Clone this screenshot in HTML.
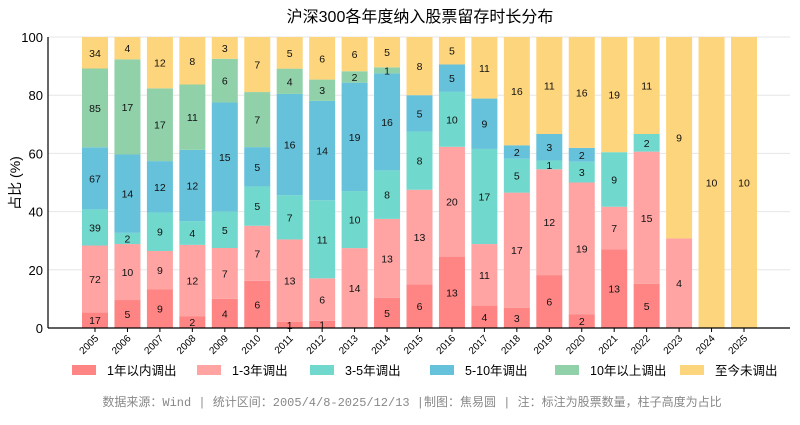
<!DOCTYPE html>
<html><head><meta charset="utf-8"><style>
body{margin:0;background:#fff;font-family:"Liberation Sans","Noto Sans CJK SC",sans-serif}
svg text{font-family:"Liberation Sans","Noto Sans CJK SC",sans-serif}
</style></head><body>
<svg id="chart" width="800" height="420" viewBox="0 0 800 420" xmlns="http://www.w3.org/2000/svg">
<text x="420" y="22" text-anchor="middle" font-size="16" fill="#000">沪深300各年度纳入股票留存时长分布</text>
<text transform="translate(20,183) rotate(-90)" text-anchor="middle" font-size="14">占比 (%)</text>
<g id="grid"></g><g id="bars"></g><g id="axes"></g><g id="legend"></g>
<text x="412" y="406" text-anchor="middle" font-size="12" fill="#888" style="font-family:'Liberation Mono','Noto Sans CJK SC',monospace">数据来源：Wind | 统计区间：2005/4/8-2025/12/13 |制图：焦易圆 | 注：标注为股票数量，柱子高度为占比</text>
</svg>
<script>
const years=["2005","2006","2007","2008","2009","2010","2011","2012","2013","2014","2015","2016","2017","2018","2019","2020","2021","2022","2023","2024","2025"];
const seriesNames=["1年以内调出","1-3年调出","3-5年调出","5-10年调出","10年以上调出","至今未调出"];
const within1=[17,5,9,2,4,6,1,1,0,5,6,13,4,3,6,2,13,5,0,0,0];
const y1to3=[72,10,9,12,7,7,13,6,14,13,13,20,11,17,12,19,7,15,4,0,0];
const y3to5=[39,2,9,4,5,5,7,11,10,8,8,10,17,5,1,3,9,2,0,0,0];
const y5to10=[67,14,12,12,15,5,16,14,19,16,5,5,9,2,3,2,0,0,0,0,0];
const over10=[85,17,17,11,6,7,4,3,2,1,0,0,0,0,0,0,0,0,0,0,0];
const never=[34,4,12,8,3,7,5,6,6,5,8,5,11,16,11,16,19,11,9,10,10];
const yTicks=[0,20,40,60,80,100];
const series=[within1,y1to3,y3to5,y5to10,over10,never];
const colors=["#ff8585","#ffa3a3","#70d8cc","#66c1da","#90d1aa","#fdd57c"];
const NS="http://www.w3.org/2000/svg";
const x0=95,step=32.45,bw=26,yTop=37,yBot=328;
const xs=i=>x0+i*step;
const ys=v=>yBot-(yBot-yTop)*v/100;
function mk(t,a,p){const e=document.createElementNS(NS,t);for(const k in a)e.setAttribute(k,a[k]);p.appendChild(e);return e;}
const grid=document.getElementById('grid'),bars=document.getElementById('bars'),axes=document.getElementById('axes'),leg=document.getElementById('legend');
yTicks.forEach(v=>{
 if(v>0){const g=mk('line',{x1:48,x2:790,y1:ys(v),y2:ys(v),stroke:'#e6e6e6','stroke-width':1},grid);
 
 }
 const t=mk('text',{x:43,y:ys(v)+5,'text-anchor':'end','font-size':13},axes);t.textContent=v;
 
 
});
years.forEach((yr,i)=>{
 const tot=series.reduce((s,a)=>s+a[i],0);let cum=0;
 series.forEach((a,k)=>{const v=a[i];if(!v)return;
  const p0=cum/tot*100,p1=(cum+v)/tot*100;cum+=v;
  const r=mk('rect',{x:xs(i)-bw/2,y:ys(p1),width:bw,height:ys(p0)-ys(p1),fill:colors[k]},bars);
  
  
  const t=mk('text',{x:xs(i),y:(ys(p0)+ys(p1))/2+4,'text-anchor':'middle','font-size':10.5,fill:'#111'},bars);t.textContent=v;
  
  
 });
 const tl=mk('text',{transform:`translate(${xs(i)+4},${yBot+11}) rotate(-45)`,'text-anchor':'end','font-size':10},axes);tl.textContent=yr;
 
 
 mk('line',{x1:xs(i),x2:xs(i),y1:yBot,y2:yBot+4,stroke:'#000'},axes);
});
mk('line',{x1:48,x2:48,y1:yTop,y2:yBot,stroke:'#000','stroke-width':1.2},axes);
mk('line',{x1:48,x2:790,y1:yBot,y2:yBot,stroke:'#000','stroke-width':1.2},axes);
const lx=[72,197,310,430,555,680];
seriesNames.forEach((n,k)=>{
 const r=mk('rect',{x:lx[k],y:365,width:24,height:10,fill:colors[k]},leg);
 
 
 const t=mk('text',{x:lx[k]+35,y:375,'font-size':12.5},leg);t.textContent=n;
 
 
});
</script>
</body></html>
